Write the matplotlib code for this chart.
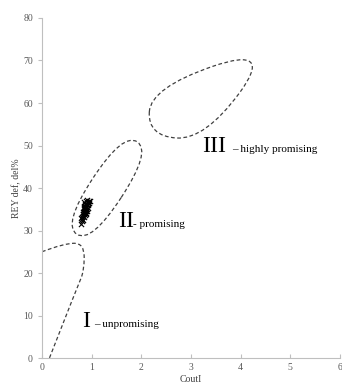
import matplotlib
matplotlib.use("Agg")
import matplotlib.pyplot as plt
from matplotlib.path import Path
from matplotlib.patches import PathPatch

plt.rcParams['font.family'] = ['Liberation Serif', 'DejaVu Serif']

# control polygons of the hand drawn region outlines (data units)
region1_x = [0.0, 0.45, 0.85, 0.85, 0.72, 0.15]
region1_y = [25.0, 27.0, 27.0, 20.5, 17.0, 0.0]
region2_x = [2.205, 1.63, 0.41, 0.99]
region2_y = [48.66, 53.08, 31.34, 26.92]
region3_x = [2.19, 4.688, 3.280, 2.133]
region3_y = [63.6, 73.65, 51.29, 52.24]

# measured points
coutl = [0.78, 0.80, 0.82, 0.83, 0.84, 0.85, 0.86, 0.87, 0.88, 0.90,
         0.92, 0.93, 0.95, 0.81, 0.83, 0.85, 0.87, 0.89, 0.91, 0.84,
         0.86, 0.88, 0.90, 0.82, 0.84, 0.86, 0.88, 0.80, 0.83, 0.87,
         0.91, 0.94, 0.85, 0.89, 0.79, 0.96, 0.92, 0.86, 0.84, 0.88]
rey = [31.6, 32.8, 33.5, 34.0, 34.6, 35.2, 35.8, 36.3, 36.9, 37.2,
       36.5, 35.9, 37.0, 33.2, 33.9, 34.3, 34.9, 35.5, 36.1, 35.6,
       34.8, 34.2, 35.0, 34.4, 33.1, 33.6, 33.8, 32.2, 32.5, 35.6,
       34.6, 36.4, 36.8, 36.2, 32.9, 36.9, 35.3, 34.1, 35.0, 34.5]

labels = ["I", "II", "III"]
label_x = [0.80, 1.53, 3.22]
label_y = [7.3, 30.8, 48.5]
notes = ["\u2013 unpromising", "- promising", "\u2013 highly promising"]
note_x = [1.05, 1.84, 3.82]


def spline_path(xs, ys, closed):
    pts = list(zip(xs, ys))
    mid = lambda a, b: ((a[0] + b[0]) / 2, (a[1] + b[1]) / 2)
    if closed:
        n = len(pts)
        verts = [mid(pts[-1], pts[0])]
        codes = [Path.MOVETO]
        for i in range(n):
            verts += [pts[i], mid(pts[i], pts[(i + 1) % n])]
            codes += [Path.CURVE3, Path.CURVE3]
    else:
        verts = [pts[0]]
        codes = [Path.MOVETO]
        for i in range(1, len(pts) - 1):
            end = pts[i + 1] if i == len(pts) - 2 else mid(pts[i], pts[i + 1])
            verts += [pts[i], end]
            codes += [Path.CURVE3, Path.CURVE3]
    return Path(verts, codes)


fig = plt.figure(figsize=(3.42, 3.87), dpi=100)
ax = fig.add_axes([0.1228, 0.0749, 0.871, 0.8786])

for xs, ys, closed in [(region1_x, region1_y, False),
                       (region2_x, region2_y, True),
                       (region3_x, region3_y, True)]:
    ax.add_patch(PathPatch(spline_path(xs, ys, closed), fill=False,
                           edgecolor='#404040', lw=0.9, ls=(0, (3, 2))))

ax.scatter(coutl, rey, marker='x', color='black', s=14, lw=0.8, zorder=3)

for lab, lx, ly, note, nx in zip(labels, label_x, label_y, notes, note_x):
    ax.text(lx, ly, lab, fontsize=17, va='baseline', ha='left')
    ax.text(nx, ly, note, fontsize=8, va='baseline', ha='left')

ax.set_xlim(0, 6)
ax.set_ylim(0, 80)
ax.set_xticks(range(0, 7))
ax.set_yticks(range(0, 81, 10))
for s in ['top', 'right']:
    ax.spines[s].set_visible(False)
for s in ['left', 'bottom']:
    ax.spines[s].set_color('#bfbfbf')
    ax.spines[s].set_linewidth(0.8)
ax.tick_params(axis='both', colors='#bfbfbf', labelcolor='#595959',
               labelsize=7, length=3, width=0.8)
ax.tick_params(axis='x', direction='in')
ax.set_xlabel("CoutI", fontsize=7, color='#404040', labelpad=2)
ax.set_ylabel("REY def, del%", fontsize=7, color='#404040', labelpad=1)

fig.savefig("out.png", dpi=100)
